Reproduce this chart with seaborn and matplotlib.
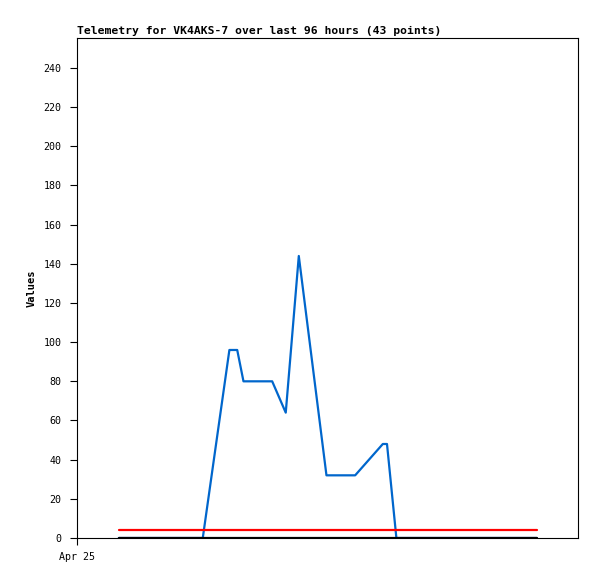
import matplotlib
matplotlib.use("Agg")
import matplotlib.pyplot as plt
import seaborn as sns
import pandas as pd

# Data (x in hours since Apr 25 00:00)
blue_hours = [8.0, 24.1, 29.2, 30.7, 31.9, 37.4, 40.0, 42.5, 47.8, 53.3, 58.6, 59.4, 61.2, 88.1]
blue_values = [0, 0, 96, 96, 80, 80, 64, 144, 32, 32, 48, 48, 0, 0]
red_hours = [8.0, 88.1]
red_values = [4, 4]
black_hours = [8.0, 88.1]
black_values = [0, 0]
x_tick_positions = [0]
x_tick_labels = ["Apr 25"]
y_ticks = list(range(0, 241, 20))
title = "Telemetry for VK4AKS-7 over last 96 hours (43 points)"

sns.set_style("white")
plt.rcParams['font.family'] = ['DejaVu Sans Mono']
plt.rcParams['text.color'] = 'black'
plt.rcParams['axes.labelcolor'] = 'black'
plt.rcParams['xtick.color'] = 'black'
plt.rcParams['ytick.color'] = 'black'

fig = plt.figure(figsize=(5.97, 5.79), dpi=100)
ax = fig.add_axes([77/597, 1-538/579, (578-77)/597, (538-38)/579])

sns.lineplot(x=blue_hours, y=blue_values, ax=ax, color="#0066cc", linewidth=1.6, estimator=None, sort=False)
sns.lineplot(x=red_hours, y=red_values, ax=ax, color="#ff0000", linewidth=1.6, estimator=None)
sns.lineplot(x=black_hours, y=black_values, ax=ax, color="#000000", linewidth=1.6, estimator=None)

ax.set_xlim(0, 96)
ax.set_ylim(0, 255.3)
ax.set_yticks(y_ticks)
ax.set_xticks(x_tick_positions)
ax.set_xticklabels(x_tick_labels)
ax.tick_params(axis='both', direction='out', length=5, width=0.8, color='black',
               labelsize=7.2, labelcolor='black', left=True, bottom=True)
ax.tick_params(axis='y', pad=6)
ax.tick_params(axis='x', pad=5)
for s in ax.spines.values():
    s.set_color('black')
    s.set_linewidth(0.8)
ax.set_ylabel("Values", fontsize=7.5, fontweight='bold', labelpad=5, color='black')
ax.set_xlabel("")
ax.set_title(title, loc='left', fontsize=8.2, fontweight='bold', pad=3, color='black')
ax.grid(False)

fig.savefig("out.png", dpi=100)
